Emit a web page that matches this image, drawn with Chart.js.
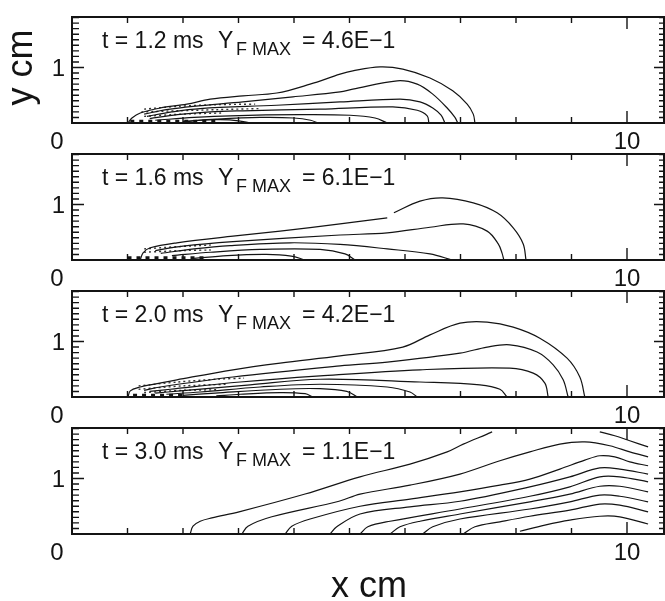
<!DOCTYPE html>
<html>
<head>
<meta charset="utf-8">
<title>Fuel mass fraction contours</title>
<script src="https://cdn.jsdelivr.net/npm/chart.js@4.4.1/dist/chart.umd.min.js"></script>
<style>
  body { margin: 0; background: #fff; }
  #stack { position: relative; width: 665px; height: 601px; }
  #stack canvas { position: absolute; left: 0; top: 0; }
</style>
</head>
<body>
<div id="stack">
  <canvas id="panel0" width="665" height="601"></canvas>
  <canvas id="panel1" width="665" height="601"></canvas>
  <canvas id="panel2" width="665" height="601"></canvas>
  <canvas id="panel3" width="665" height="601"></canvas>
</div>
<script>
// snapshot time and peak fuel fraction for each panel
const times = ['1.2', '1.6', '2.0', '3.0'];
const yfMax = ['4.6E\u22121', '6.1E\u22121', '4.2E\u22121', '1.1E\u22121'];

// axis labels [value, text]
const xTickLabels = [[0, '0'], [10, '10']];
const yTickLabels = [[1, '1']];
const xTicks = [1, 2, 3, 4, 5, 6, 7, 8, 9, 10];
const yTicks = [0.1, 0.2, 0.3, 0.4, 0.5, 0.6, 0.7, 0.8, 0.9, 1.0,
                1.1, 1.2, 1.3, 1.4, 1.5, 1.6, 1.7, 1.8, 1.9];

// contour lines, [x cm, y cm]
const contours12 = [
  [[1.01,0],[1.08,0.09],[1.23,0.18],[1.59,0.27],[2.07,0.34],[2.49,0.43],[3.08,0.49],[3.69,0.54],[4.29,0.70],[4.83,0.88],[5.06,0.94],[5.55,1.01],[5.96,0.97],[6.45,0.81],[6.86,0.58],[7.12,0.34],[7.23,0.16],[7.26,0]],
  [[1.30,0.16],[1.70,0.24],[2.18,0.30],[3.08,0.38],[3.98,0.47],[4.83,0.56],[5.06,0.61],[5.86,0.76],[6.22,0.70],[6.50,0.52],[6.76,0.27],[6.90,0.10],[6.95,0]],
  [[1.35,0.12],[1.80,0.20],[2.31,0.26],[3.69,0.32],[4.83,0.38],[5.91,0.43],[6.27,0.38],[6.50,0.27],[6.65,0.14],[6.72,0]],
  [[1.40,0.08],[1.90,0.15],[2.49,0.20],[3.08,0.22],[4.47,0.25],[5.78,0.29],[6.22,0.23],[6.40,0.13],[6.43,0]],
  [[1.50,0.05],[2.20,0.10],[2.85,0.13],[4.11,0.15],[5.01,0.14],[5.46,0.09],[5.68,0]],
  [[2.00,0.03],[2.60,0.07],[3.39,0.10],[4.00,0.09],[4.30,0.05],[4.43,0]],
  [[1.95,0],[2.30,0.05],[2.67,0.06],[3.00,0.04],[3.21,0]]
];
const contours16 = [
  [[1.23,0],[1.28,0.13],[1.41,0.22],[1.89,0.31],[2.90,0.43],[3.75,0.52],[4.83,0.65],[5.68,0.76]],
  [[5.80,0.85],[6.27,1.06],[6.68,1.12],[7.23,1.03],[7.66,0.85],[7.95,0.58],[8.13,0.29],[8.18,0]],
  [[1.50,0.17],[2.00,0.25],[2.90,0.33],[4.83,0.45],[5.68,0.49],[6.45,0.59],[7.05,0.65],[7.48,0.52],[7.68,0.29],[7.75,0.12],[7.78,0]],
  [[1.60,0.12],[2.20,0.20],[2.85,0.26],[3.93,0.31],[4.83,0.28],[5.68,0.20],[6.45,0.11],[6.85,0]],
  [[1.80,0.08],[2.50,0.14],[3.39,0.19],[4.47,0.19],[4.92,0.11],[5.10,0]],
  [[2.20,0.03],[2.80,0.08],[3.50,0.10],[3.95,0.07],[4.20,0]]
];
const contours20 = [
  [[1.01,0],[1.05,0.11],[1.23,0.18],[1.41,0.22],[1.89,0.31],[2.90,0.49],[3.75,0.61],[4.83,0.74],[5.96,0.90],[6.45,1.12],[6.99,1.33],[7.48,1.35],[7.95,1.26],[8.43,1.06],[8.92,0.70],[9.15,0.36],[9.24,0]],
  [[1.30,0.12],[1.59,0.18],[2.90,0.36],[4.83,0.56],[5.68,0.63],[6.99,0.79],[7.48,0.90],[7.89,0.94],[8.38,0.81],[8.67,0.58],[8.85,0.31],[8.94,0]],
  [[1.40,0.10],[1.77,0.14],[3.03,0.27],[4.47,0.38],[6.27,0.49],[7.89,0.52],[8.31,0.43],[8.52,0.25],[8.58,0]],
  [[1.50,0.07],[1.95,0.11],[3.21,0.22],[4.47,0.32],[6.27,0.27],[7.35,0.22],[7.71,0.14],[7.84,0]],
  [[1.70,0.05],[2.31,0.09],[3.39,0.18],[4.47,0.23],[5.68,0.18],[6.09,0.09],[6.22,0]],
  [[2.00,0.03],[2.58,0.07],[3.75,0.14],[4.47,0.15],[4.95,0.10],[5.14,0]],
  [[2.60,0.02],[3.03,0.05],[3.75,0.08],[4.20,0.06],[4.34,0]]
];
const contours30 = [
  [[2.13,0],[2.18,0.14],[2.31,0.23],[2.52,0.29],[3.01,0.40],[4.20,0.72],[5.19,1.03],[6.09,1.26],[6.76,1.48],[7.05,1.62],[7.48,1.80],[7.57,1.84]],
  [[3.06,0],[3.17,0.14],[3.60,0.31],[4.81,0.59],[5.19,0.72],[6.09,0.88],[6.99,1.08],[7.71,1.32],[8.25,1.48],[8.79,1.62],[9.24,1.66],[9.69,1.59],[10.05,1.48],[10.38,1.39]],
  [[3.84,0],[3.96,0.14],[4.29,0.27],[5.19,0.50],[6.09,0.63],[6.99,0.76],[7.71,0.88],[8.25,0.99],[8.79,1.17],[9.24,1.33],[9.51,1.41],[9.78,1.39],[10.05,1.30],[10.38,1.23]],
  [[4.65,0],[4.77,0.13],[5.19,0.36],[6.09,0.49],[6.99,0.59],[8.25,0.85],[8.97,1.03],[9.51,1.19],[9.87,1.17],[10.38,1.08]],
  [[5.19,0],[5.33,0.13],[5.73,0.23],[6.99,0.45],[8.25,0.68],[8.97,0.85],[9.51,1.03],[9.87,1.03],[10.38,0.94]],
  [[5.73,0],[5.91,0.13],[6.27,0.23],[6.99,0.36],[8.25,0.58],[8.97,0.72],[9.51,0.86],[9.87,0.86],[10.38,0.76]],
  [[6.32,0],[6.50,0.13],[6.99,0.27],[8.25,0.45],[8.97,0.58],[9.51,0.70],[9.87,0.68],[10.38,0.58]],
  [[7.05,0],[7.26,0.13],[7.71,0.22],[8.25,0.32],[8.97,0.43],[9.51,0.54],[9.87,0.52],[10.38,0.40]],
  [[8.07,0.05],[8.52,0.16],[8.97,0.25],[9.51,0.32],[9.87,0.31],[10.38,0.18]],
  [[9.51,1.84],[9.78,1.77],[10.05,1.68],[10.38,1.57]]
];

// broken, noisy contours near the injector
const noise12 = [
  [[1.30,0.25],[1.90,0.30],[2.60,0.33],[3.30,0.34]],
  [[1.25,0.20],[1.90,0.22],[2.60,0.24],[3.40,0.26]],
  [[1.30,0.12],[2.00,0.16],[2.70,0.18]]
];
const noise16 = [
  [[1.30,0.20],[1.90,0.24],[2.50,0.27]],
  [[1.30,0.14],[2.00,0.17],[2.50,0.18]]
];
const noise20 = [
  [[1.20,0.20],[1.90,0.27],[2.60,0.32],[3.10,0.34]],
  [[1.20,0.14],[2.00,0.20],[2.80,0.23]],
  [[1.30,0.08],[2.00,0.12],[2.60,0.13]]
];
const noise30 = [];
const blobs = [
  [[1.05,0.03],[2.60,0.03]],
  [[1.00,0.04],[2.40,0.04]],
  [[1.10,0.03],[2.00,0.03]],
  null
];

const panels = [
  { lines: contours12, noise: noise12 },
  { lines: contours16, noise: noise16 },
  { lines: contours20, noise: noise20 },
  { lines: contours30, noise: noise30 }
];

const panelTops = [17, 154, 291, 428];
const panelHeight = 106;
const plotLeft = 72, plotRight = 664;
const INK = '#141414';
const FONT = '"Liberation Sans", Arial, Helvetica, sans-serif';

// frame with inward ticks, tick labels and the panel caption
const framePlugin = {
  id: 'frame',
  afterDraw(chart, args, opts) {
    const { ctx, chartArea: a, scales: { x, y } } = chart;
    ctx.save();
    ctx.strokeStyle = INK;
    ctx.fillStyle = INK;
    ctx.lineWidth = 2;
    ctx.strokeRect(a.left, a.top, a.right - a.left, a.bottom - a.top);

    ctx.lineWidth = 1.4;
    ctx.beginPath();
    xTicks.forEach(v => {
      const px = x.getPixelForValue(v);
      const len = v === 10 ? 12 : 6;
      ctx.moveTo(px, a.bottom); ctx.lineTo(px, a.bottom - len);
      ctx.moveTo(px, a.top); ctx.lineTo(px, a.top + len);
    });
    yTicks.forEach(v => {
      const py = y.getPixelForValue(v);
      const len = v === 1 ? 12 : 7;
      ctx.moveTo(a.left, py); ctx.lineTo(a.left + len, py);
      ctx.moveTo(a.right, py); ctx.lineTo(a.right - (v === 1 ? 10 : 5), py);
    });
    ctx.stroke();

    ctx.font = '24px ' + FONT;
    ctx.textBaseline = 'alphabetic';
    ctx.textAlign = 'center';
    xTickLabels.forEach(([v, t]) => {
      const px = x.getPixelForValue(v) + (v === 0 ? -15 : 0);
      ctx.fillText(t, px, a.bottom + 26);
    });
    ctx.textAlign = 'right';
    ctx.textBaseline = 'middle';
    yTickLabels.forEach(([v, t]) => {
      ctx.fillText(t, a.left - 7, y.getPixelForValue(v) + 2);
    });

    // caption: t = ... ms   Y_F MAX = ...
    const base = a.top + 31;
    ctx.textAlign = 'left';
    ctx.textBaseline = 'alphabetic';
    ctx.font = '23px ' + FONT;
    ctx.fillText('t = ' + opts.time + ' ms', a.left + 30, base);
    ctx.fillText('Y', a.left + 146, base);
    ctx.fillText('= ' + opts.peak, a.left + 230, base);
    ctx.font = '18px ' + FONT;
    ctx.fillText('F MAX', a.left + 164, base + 7);

    if (opts.yTitle) {
      ctx.save();
      ctx.font = '36px ' + FONT;
      ctx.textAlign = 'center';
      ctx.translate(32, y.getPixelForValue(1));
      ctx.rotate(-Math.PI / 2);
      ctx.fillText('y cm', 0, 0);
      ctx.restore();
    }
    if (opts.xTitle) {
      ctx.font = '36px ' + FONT;
      ctx.textAlign = 'center';
      ctx.fillText('x cm', 369, 597);
    }
    ctx.restore();
  }
};

panels.forEach((p, i) => {
  const top = panelTops[i];
  const datasets = p.lines.map(pts => ({
    data: pts.map(([x, y]) => ({ x, y })),
    borderColor: INK,
    borderWidth: 1.2,
    pointRadius: 0,
    tension: 0.35,
    fill: false
  }));
  p.noise.forEach(pts => datasets.push({
    data: pts.map(([x, y]) => ({ x, y })),
    borderColor: '#333',
    borderWidth: 1.4,
    borderDash: [2, 3],
    pointRadius: 0,
    tension: 0.3,
    fill: false
  }));
  if (blobs[i]) {
    datasets.push({
      data: blobs[i].map(([x, y]) => ({ x, y })),
      borderColor: INK,
      borderWidth: 3,
      borderDash: [4, 5],
      pointRadius: 0,
      fill: false
    });
  }

  new Chart(document.getElementById('panel' + i), {
    type: 'line',
    data: { datasets },
    options: {
      responsive: false,
      animation: false,
      events: [],
      layout: {
        padding: { left: plotLeft, right: 665 - plotRight, top: top, bottom: 601 - top - panelHeight }
      },
      scales: {
        x: { type: 'linear', min: 0, max: (plotRight - plotLeft) / 55.5, display: false },
        y: { type: 'linear', min: 0, max: panelHeight / 55.5, display: false }
      },
      plugins: {
        legend: { display: false },
        tooltip: { enabled: false },
        frame: { time: times[i], peak: yfMax[i], yTitle: i === 0, xTitle: i === 3 }
      }
    },
    plugins: [framePlugin]
  });
});
</script>
</body>
</html>
